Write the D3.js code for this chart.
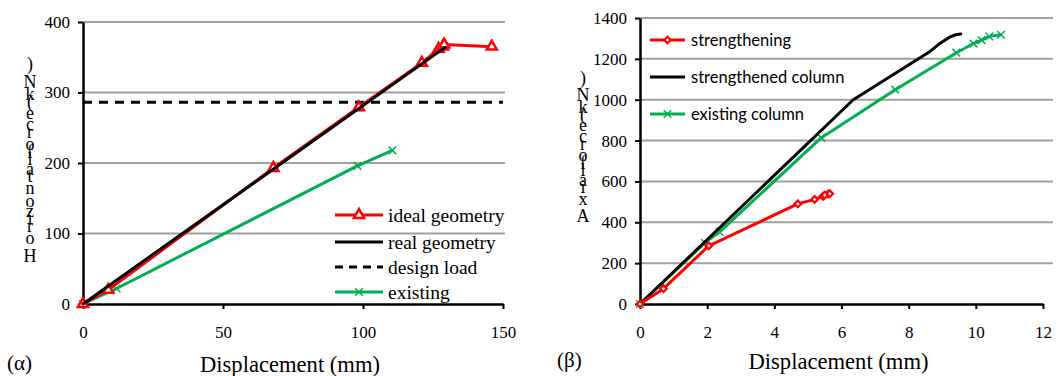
<!DOCTYPE html>
<html>
<head>
<meta charset="utf-8">
<script src="https://cdn.jsdelivr.net/npm/d3@7"></script>
<style>
  body { margin: 0; background: #fff; }
  svg { display: block; }
</style>
</head>
<body>
<svg id="chart" width="1063" height="376"></svg>
<script>
// (α) horizontal force vs displacement
const idealGeometry = [[0, 0], [9, 20], [68, 193], [98.5, 279], [121, 342], [127, 362], [128.5, 365], [129, 368], [146, 365]];
const realGeometry = [[0, 0], [129.3, 364]];
const designLoad = [[0, 286], [150, 286]];
const existing = [[0, 0], [12, 22], [98, 196], [110.5, 218]];
const ticksA_x = [0, 50, 100, 150];
const ticksA_y = [0, 100, 200, 300, 400];

// (β) axial force vs displacement
const strengthening = [[0, 0], [0.7, 75], [2.05, 285], [4.7, 490], [5.2, 512], [5.45, 527], [5.6, 538], [5.65, 540], [5.5, 533]];
const strengthenedColumn = [[0, 0], [6.35, 1000], [8.6, 1232], [8.95, 1278], [9.2, 1305], [9.4, 1318], [9.55, 1322]];
const existingColumn = [[0, 0], [1.93, 299], [2.37, 353], [5.4, 814], [7.6, 1049], [9.42, 1230], [9.93, 1275], [10.17, 1292], [10.4, 1310], [10.75, 1318]];
const ticksB_x = [0, 2, 4, 6, 8, 10, 12];
const ticksB_y = [0, 200, 400, 600, 800, 1000, 1200, 1400];

const RED = '#ff0000', GREEN = '#00b050', GRID = '#a0a0a0';
const SERIF = '"Liberation Serif", "Times New Roman", serif';
const SANS = 'Lato, "Liberation Sans", sans-serif';

const svg = d3.select('#chart');

function drawPanel({ x, y, xTicks, yTicks, gridEnd, title, titleW, tag, tagX, titleY, ylabel, ylabelX, ylabelTop, ylabelBottom }) {
    const g = svg.append('g');

    g.append('g').selectAll('line')
        .data(yTicks.filter(d => d > 0))
        .join('line')
        .attr('x1', x.range()[0]).attr('x2', gridEnd)
        .attr('y1', d => y(d)).attr('y2', d => y(d))
        .style('stroke', GRID).style('stroke-width', 2);

    const yAxis = g.append('g')
        .attr('transform', `translate(${x.range()[0]},0)`)
        .call(d3.axisLeft(y).tickValues(yTicks).tickFormat(d3.format('d'))
            .tickSize(5).tickSizeOuter(0).tickPadding(8));
    const xAxis = g.append('g')
        .attr('transform', `translate(0,${y(0)})`)
        .call(d3.axisBottom(x).tickValues(xTicks).tickFormat(d3.format('d'))
            .tickSize(5).tickSizeOuter(0).tickPadding(17));

    [yAxis, xAxis].forEach(a => {
        a.attr('font-family', SERIF).attr('font-size', 17);
        a.select('.domain').style('stroke', '#000').style('stroke-width', 2.5);
        a.selectAll('.tick line').style('stroke', '#000').style('stroke-width', 2);
        a.selectAll('.tick text').style('fill', '#000');
    });

    const cx = (x.range()[0] + x.range()[1]) / 2 - 3;
    g.append('text')
        .attr('x', cx - titleW / 2)
        .attr('y', titleY)
        .attr('textLength', titleW)
        .attr('lengthAdjust', 'spacingAndGlyphs')
        .style('font-family', SERIF).style('font-size', '22.5px')
        .text(title);

    g.append('text')
        .attr('x', tagX).attr('y', titleY - 2)
        .style('font-family', SERIF).style('font-size', '21px')
        .text(tag);

    // y label: upright glyphs stacked from bottom to top, one glyph per text
    const chars = ylabel.replace(/ /g, '').split('');
    const lab = g.append('g')
        .style('font-family', SERIF).style('font-size', '18px');
    const nodes = chars.map(c => lab.append('text').attr('text-anchor', 'middle').text(c));
    const widths = nodes.map(n => n.node().getComputedTextLength());
    const k = (ylabelBottom - ylabelTop) / d3.sum(widths);
    let pos = ylabelBottom;
    nodes.forEach((n, i) => {
        n.attr('x', ylabelX).attr('y', pos);
        pos -= widths[i] * k;
    });

    return g;
}

function drawLine(g, x, y, data, color, opts = {}) {
    const line = d3.line().x(d => x(d[0])).y(d => y(d[1]));
    g.append('path')
        .attr('d', line(data))
        .style('fill', 'none')
        .style('stroke', color)
        .style('stroke-width', opts.width || 3)
        .style('stroke-dasharray', opts.dash || null)
        .style('stroke-linecap', opts.cap || 'butt')
        .style('stroke-linejoin', 'round');
}

function marker(g, type, cx, cy, color) {
    if (type === 'triangle') {
        g.append('path')
            .attr('d', d3.symbol(d3.symbolTriangle, 45)())
            .attr('transform', `translate(${cx},${cy})`)
            .style('fill', '#fff').style('stroke', color).style('stroke-width', 2.5);
    } else if (type === 'diamond') {
        g.append('path')
            .attr('d', d3.symbol(d3.symbolSquare, 22)())
            .attr('transform', `translate(${cx},${cy}) rotate(45)`)
            .style('fill', '#fff').style('stroke', color).style('stroke-width', 2.2);
    } else if (type === 'cross') {
        g.append('path')
            .attr('d', d3.symbol(d3.symbolX, 40)())
            .attr('transform', `translate(${cx},${cy})`)
            .style('fill', 'none').style('stroke', color).style('stroke-width', 1.5);
    }
}

function drawMarkers(g, x, y, data, type, color) {
    data.forEach(d => marker(g, type, x(d[0]), y(d[1]), color));
}

function legend(g, items, { x0, x1, tx, ys, font, size }) {
    items.forEach((it, i) => {
        const yy = ys[i];
        g.append('line')
            .attr('x1', x0).attr('x2', x1).attr('y1', yy).attr('y2', yy)
            .style('stroke', it.color).style('stroke-width', 3)
            .style('stroke-dasharray', it.dash || null);
        if (it.marker) marker(g, it.marker, (x0 + x1) / 2, yy, it.color);
        g.append('text')
            .attr('x', tx).attr('y', yy).attr('dy', '0.35em')
            .style('font-family', font).style('font-size', size)
            .text(it.label);
    });
}

// ---- panel (α)
const xA = d3.scaleLinear().domain([0, 150]).range([83, 503]);
const yA = d3.scaleLinear().domain([0, 400]).range([304, 22]);
const gA = drawPanel({
    x: xA, y: yA, xTicks: ticksA_x, yTicks: ticksA_y, gridEnd: 505,
    title: 'Displacement (mm)', titleW: 180, tag: '(α)', tagX: 7, titleY: 372,
    ylabel: 'Horizontal force (kN)', ylabelX: 30, ylabelTop: 62, ylabelBottom: 262
});
drawLine(gA, xA, yA, designLoad, '#000', { dash: '9,7' });
drawLine(gA, xA, yA, existing, GREEN);
drawMarkers(gA, xA, yA, existing, 'cross', GREEN);
drawLine(gA, xA, yA, idealGeometry, RED);
drawMarkers(gA, xA, yA, idealGeometry, 'triangle', RED);
drawLine(gA, xA, yA, realGeometry, '#000', { cap: 'round' });
legend(gA, [
    { label: 'ideal geometry', color: RED, marker: 'triangle' },
    { label: 'real geometry', color: '#000' },
    { label: 'design load', color: '#000', dash: '8,6' },
    { label: 'existing', color: GREEN, marker: 'cross' }
], { x0: 335, x1: 383, tx: 388, ys: [215, 242, 267, 292], font: SERIF, size: '19.5px' });

// ---- panel (β)
const xB = d3.scaleLinear().domain([0, 12]).range([640, 1043]);
const yB = d3.scaleLinear().domain([0, 1400]).range([304, 18]);
const gB = drawPanel({
    x: xB, y: yB, xTicks: ticksB_x, yTicks: ticksB_y, gridEnd: 1053,
    title: 'Displacement (mm)', titleW: 180, tag: '(β)', tagX: 557, titleY: 369,
    ylabel: 'Axial force (kN)', ylabelX: 583, ylabelTop: 76, ylabelBottom: 222
});
drawLine(gB, xB, yB, existingColumn, GREEN);
drawMarkers(gB, xB, yB, existingColumn, 'cross', GREEN);
drawLine(gB, xB, yB, strengthenedColumn, '#000', { cap: 'round' });
drawLine(gB, xB, yB, strengthening, RED);
drawMarkers(gB, xB, yB, strengthening, 'diamond', RED);
legend(gB, [
    { label: 'strengthening', color: RED, marker: 'diamond' },
    { label: 'strengthened column', color: '#000' },
    { label: 'existing column', color: GREEN, marker: 'cross' }
], { x0: 650, x1: 685, tx: 691, ys: [40, 77, 114], font: SANS, size: '16.5px' });
</script>
</body>
</html>
